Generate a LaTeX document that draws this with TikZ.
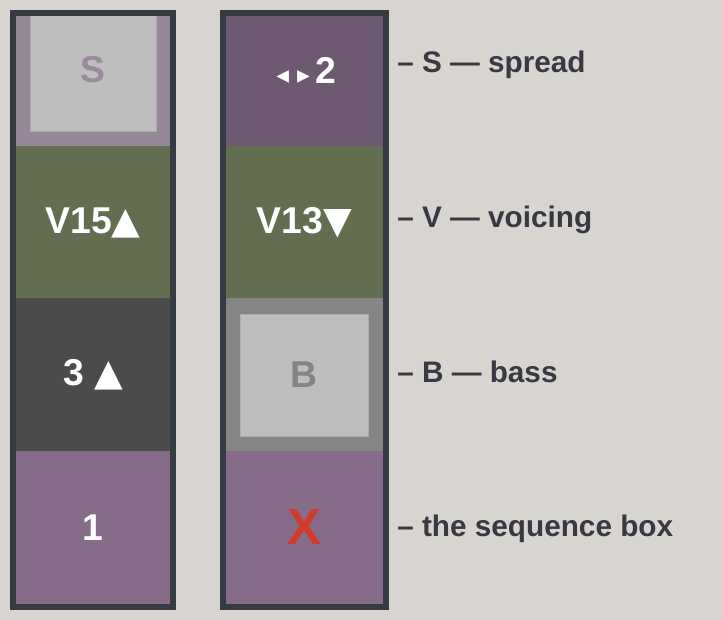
\documentclass[tikz,border=0pt]{standalone}
\usepackage{fontspec}
\setmainfont{Liberation Sans}
\newfontfamily\symfont{DejaVu Sans}
\usetikzlibrary{positioning}
\definecolor{paper}{HTML}{D8D4D0}
\definecolor{frameInk}{HTML}{363A43}
\definecolor{spreadOff}{HTML}{958797}
\definecolor{spreadOn}{HTML}{6D5A70}
\definecolor{voiceCol}{HTML}{636E50}
\definecolor{bassOn}{HTML}{4B4B4B}
\definecolor{bassOff}{HTML}{858585}
\definecolor{seqCol}{HTML}{876C89}
\definecolor{blankCol}{HTML}{BEBEBE}
\definecolor{spreadInk}{HTML}{9A8B9C}
\definecolor{crossRed}{HTML}{D23A2C}
\definecolor{labelInk}{HTML}{373A42}
\tikzset{
  tile/.style = {rectangle, inner sep=0pt, minimum height=114.75pt, text=white, font=\bfseries\fontsize{28}{30}\selectfont},
  tileL/.style = {tile, minimum width=115.5pt},
  tileR/.style = {tile, minimum width=117.75pt},
  blank/.style = {rectangle, inner sep=0pt, fill=blankCol, draw=black!33, line width=0.6pt, minimum height=91.5pt, font=\bfseries\fontsize{28}{30}\selectfont},
  colframe/.style = {draw=frameInk, line width=4.5pt},
  legend/.style = {anchor=base west, inner sep=0pt, text=labelInk, font=\bfseries\fontsize{22.3}{26}\selectfont},
}
\newcommand{\up}{{\symfont\fontsize{28}{30}\selectfont ▲}}
\newcommand{\down}{{\symfont\fontsize{28}{30}\selectfont ▼}}
\newcommand{\wide}{{\symfont\fontsize{19}{22}\selectfont\kern2.5pt ◂\kern6pt▸\kern4pt}}

\begin{document}
\begin{tikzpicture}[x=0.75pt,y=-0.75pt]
  \useasboundingbox[fill=paper] (0,0) rectangle (722,620);

  % left column
  \begin{scope}
    \clip (16,16) rectangle (170,604);
    \node[tileL, fill=spreadOff] (l1) at (93,70) {};
    \node[blank, minimum width=94.5pt, text=spreadInk] (l1s) at (93,70) {S};
    \node[tileL, fill=voiceCol] (l2) at (93,222.5) {V15\up};
    \node[tileL, fill=bassOn] (l3) at (93,375) {3 \up};
    \node[tileL, fill=seqCol] (l4) at (93,527.5) {1};
  \end{scope}
  \draw[colframe] (13,13) rectangle (173,607);

  % right column
  \begin{scope}
    \clip (226,16) rectangle (383,604);
    \node[tileR, fill=spreadOn] (r1) at (304.5,70) {\wide2};
    \node[tileR, fill=voiceCol] (r2) at (304.5,222.5) {V13\down};
    \node[tileR, fill=bassOff] (r3) at (304.5,375) {};
    \node[blank, minimum width=96pt, text=bassOff] (r3b) at (304,375) {B};
    \node[tileR, fill=seqCol, text=crossRed, font=\bfseries\fontsize{38}{40}\selectfont] (r4) at (304.5,527.5) {X};
  \end{scope}
  \draw[colframe] (223,13) rectangle (386,607);

  % legend
  \node[legend] (labS) at (397,73) {– S — spread};
  \node[legend] (labV) at (397,228) {– V — voicing};
  \node[legend] (labB) at (397,383) {– B — bass};
  \node[legend] (labQ) at (397,537) {– the sequence box};
\end{tikzpicture}
\end{document}
